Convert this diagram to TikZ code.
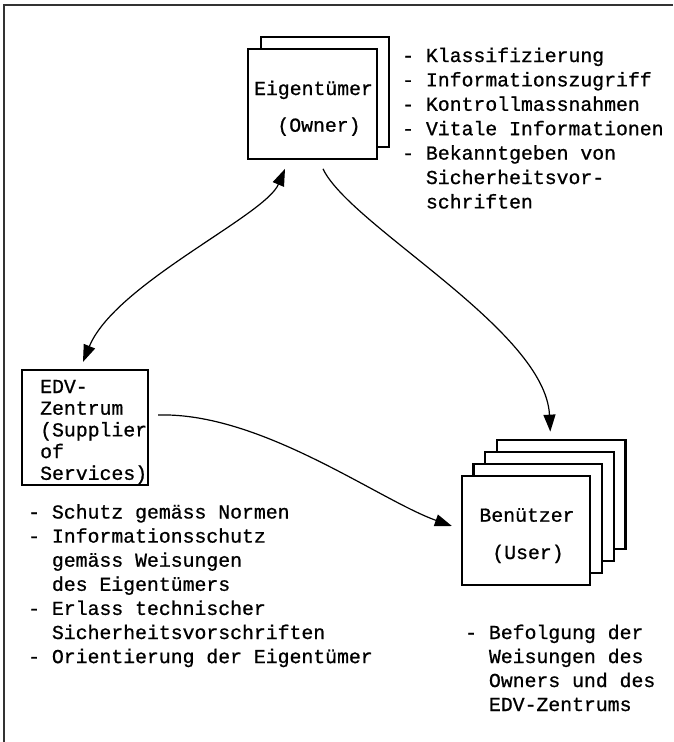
\documentclass[tikz,border=0pt]{standalone}
\usepackage{fontspec}
\newfontfamily\twfont{Liberation Mono}[FakeBold=0.8]
\usetikzlibrary{arrows.meta}
\tikzset{
  card/.style={draw=black, line width=2.2pt, fill=white, minimum width=128.5pt, minimum height=109.5pt, inner sep=0pt},
  edvbox/.style={draw=black, line width=2.2pt, fill=white, minimum width=126pt, minimum height=115pt, inner sep=0pt},
  txt/.style={font={\twfont\fontsize{19.8pt}{23.8pt}\selectfont}, inner sep=0pt, anchor=base west},
  ctxt/.style={font={\twfont\fontsize{19.8pt}{23.8pt}\selectfont}, inner sep=0pt, anchor=base},
  tip/.tip={Triangle[length=17pt,width=12pt]},
  conn/.style={line width=1.2pt, -tip},
  conntwo/.style={line width=1.2pt, tip-tip},
  frameline/.style={line width=1.4pt, draw=black!80},
}
\begin{document}
\begin{tikzpicture}[x=1pt,y=-1pt]
\useasboundingbox (0,0) rectangle (673,742);
% frame
\draw[frameline] (4,742) -- (4,5) -- (673,5);

% Owner (two stacked sheets)
\node[card] (own2) at (325,92) {};
\node[card] (own1) at (312.5,104) {};
\node[ctxt] (ownt1) at (313.5,95) {Eigentümer};
\node[ctxt] (ownt2) at (319,131.7) {(Owner)};

% User (four stacked sheets)
\node[card] (usr4) at (561.3,494.5) {};
\node[card] (usr3) at (549.5,506.5) {};
\node[card] (usr2) at (537.7,518.5) {};
\node[card] (usr1) at (525.9,530.5) {};
\node[ctxt] (usrt1) at (527,521.7) {Benützer};
\node[ctxt] (usrt2) at (528,559) {(User)};

% EDV box
\node[edvbox] (edv) at (84.7,427.5) {};
\foreach \t [count=\i] in {{EDV-}, {Zentrum}, {(Supplier}, {of}, {Services)}}
  \node[txt] (edvt\i) at (40,{393+21.7*(\i-1)}) {\t};

% Owner list
\foreach \t [count=\i] in {{- Klassifizierung}, {- Informationszugriff}, {- Kontrollmassnahmen}, {- Vitale Informationen}, {- Bekanntgeben von}, {\hphantom{- }Sicherheitsvor-}, {\hphantom{- }schriften}}
  \node[txt] (ol\i) at (402,{62+24.4*(\i-1)}) {\t};

% EDV list
\foreach \t [count=\i] in {{- Schutz gemäss Normen}, {- Informationsschutz}, {\hphantom{- }gemäss Weisungen}, {\hphantom{- }des Eigentümers}, {- Erlass technischer}, {\hphantom{- }Sicherheitsvorschriften}, {- Orientierung der Eigentümer}}
  \node[txt] (el\i) at (28,{518.5+24.1*(\i-1)}) {\t};

% User list
\foreach \t [count=\i] in {{- Befolgung der}, {\hphantom{- }Weisungen des}, {\hphantom{- }Owners und des}, {\hphantom{- }EDV-Zentrums}}
  \node[txt] (ul\i) at (465,{639+24*(\i-1)}) {\t};

% connectors
\draw[conntwo] ([xshift=-27.5pt,yshift=-9pt]own1.south) .. controls +(-20,47) and +(32,-78) .. ([xshift=-1.7pt,yshift=7pt]edv.north);
\draw[conn] ([xshift=10.5pt,yshift=-9pt]own1.south) .. controls +(27,57) and +(-5,-102) .. ([xshift=-11pt,yshift=7pt]usr4.north);
\draw[conn] ([xshift=9.3pt,yshift=12.5pt]edv.east) .. controls +(103,-3) and +(-73,-26) .. ([xshift=-8.7pt,yshift=4.5pt]usr1.west);
\end{tikzpicture}
\end{document}
